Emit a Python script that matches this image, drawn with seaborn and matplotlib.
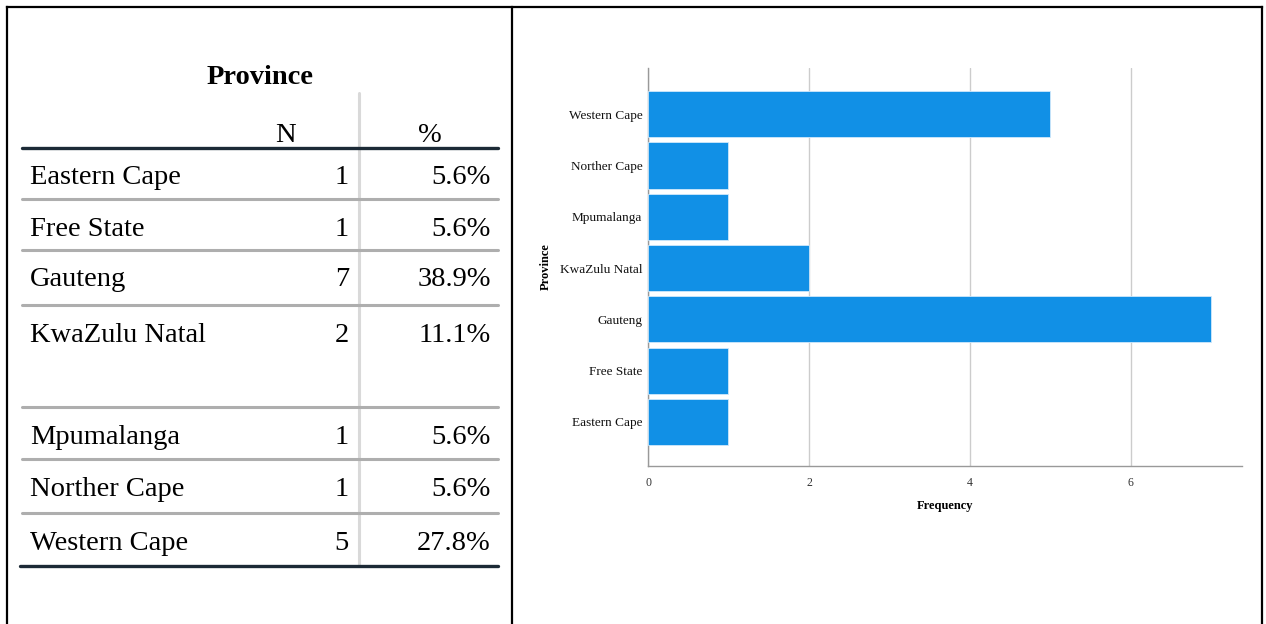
import matplotlib
matplotlib.use("Agg")
import matplotlib.pyplot as plt
import pandas as pd
import seaborn as sns

# data
provinces = ["Eastern Cape", "Free State", "Gauteng", "KwaZulu Natal", "Mpumalanga", "Norther Cape", "Western Cape"]
counts = [1, 1, 7, 2, 1, 1, 5]
percents = ["5.6%", "5.6%", "38.9%", "11.1%", "5.6%", "5.6%", "27.8%"]
x_ticks = [0, 2, 4, 6]

BAR_BLUE = "#1190e6"
SERIF = ["Liberation Serif", "DejaVu Serif"]

sns.set_style("white")
plt.rcParams["font.family"] = SERIF
plt.rcParams["text.color"] = "black"
plt.rcParams["axes.labelcolor"] = "black"

W, H = 1266, 624
fig = plt.figure(figsize=(W / 100, H / 100), dpi=100)

# overlay in pixel coordinates for the frame and the table
ov = fig.add_axes([0, 0, 1, 1])
ov.set_xlim(0, W)
ov.set_ylim(H, 0)
ov.axis("off")

# outer frame
for xs, ys in [([7, 7], [7, H]), ([7, 1262], [7, 7]), ([512, 512], [7, H]), ([1262, 1262], [7, H])]:
    ov.plot(xs, ys, color="black", lw=1.6, solid_capstyle="projecting")

# table
ov.text(260, 78, "Province", ha="center", va="center", fontsize=20.5, fontweight="bold")
ov.text(285, 136, "N", ha="center", va="center", fontsize=20.5)
ov.text(430, 136, "%", ha="center", va="center", fontsize=20.5)
ov.plot([359, 359], [93, 566], color="#d9d9d9", lw=2.2)
ov.plot([22, 498], [148, 148], color="#1c2a36", lw=2.4)

row_tops = [148, 199, 250, 305, 407, 459, 513]
row_lines = [199, 250, 305, 407, 459, 513]
for name, n, pct, top in zip(provinces, counts, percents, row_tops):
    y = top + 30
    ov.text(30, y, name, ha="left", va="center", fontsize=20.5)
    ov.text(349, y, str(n), ha="right", va="center", fontsize=20.5)
    ov.text(491, y, pct, ha="right", va="center", fontsize=20.5)
for y in row_lines:
    ov.plot([22, 498], [y, y], color="#aeaeae", lw=2.2)
ov.plot([20, 498], [566, 566], color="#1c2a36", lw=2.4)

# bar chart
df = pd.DataFrame({"Province": provinces, "Frequency": counts})
order = provinces[::-1]
ax = fig.add_axes([648 / W, 1 - 466 / H, (1242 - 648) / W, (466 - 68) / H])
sns.barplot(data=df, x="Frequency", y="Province", order=order, orient="h",
            color=BAR_BLUE, saturation=1, width=0.9, edgecolor="#cfe8fb", linewidth=0.6, ax=ax, zorder=3)
ax.set_xlim(0, 7.38)
ax.set_ylim(len(order) - 1 + 0.86, -0.9)
ax.set_xticks(x_ticks)
ax.set_xticklabels([str(t) for t in x_ticks], fontsize=8.5, color="#333333")
ax.tick_params(axis="y", labelsize=9.5, length=0, pad=4, colors="#111111")
ax.tick_params(axis="x", length=0, pad=8)
ax.grid(axis="x", color="#cccccc", lw=1.0, zorder=0)
ax.set_axisbelow(True)
for side in ["top", "right"]:
    ax.spines[side].set_visible(False)
for side in ["left", "bottom"]:
    ax.spines[side].set_color("#999999")
    ax.spines[side].set_linewidth(1.0)
ax.set_xlabel("Frequency", fontsize=9, fontweight="bold", labelpad=8)
ax.set_ylabel("Province", fontsize=9, fontweight="bold", labelpad=6)

fig.savefig("out.png", dpi=100)
